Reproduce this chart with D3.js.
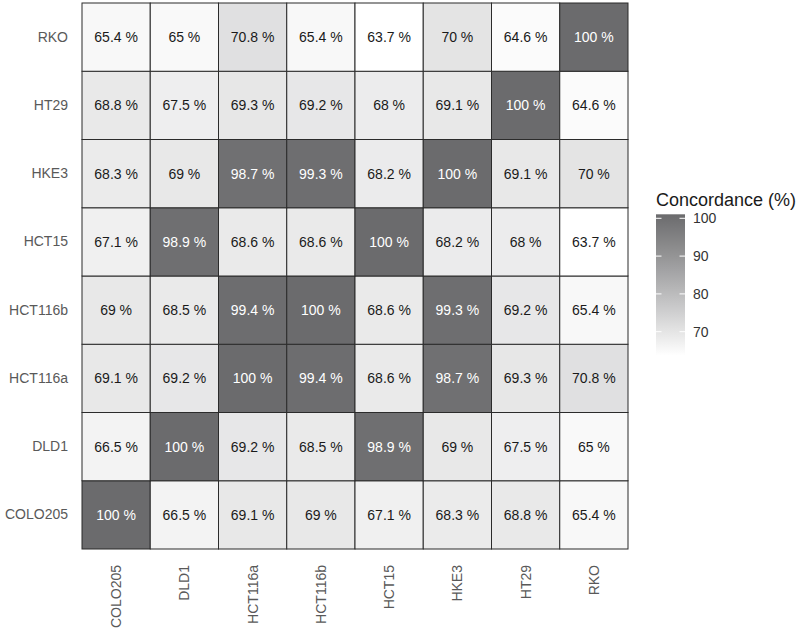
<!DOCTYPE html>
<html>
<head>
<meta charset="utf-8">
<script src="https://cdn.jsdelivr.net/npm/d3@7"></script>
<style>
  body { margin: 0; background: #fff; }
  text { font-family: "Liberation Sans", Arial, sans-serif; }
</style>
</head>
<body>
<div id="chart"></div>
<script>
const samples = ['COLO205', 'DLD1', 'HCT116a', 'HCT116b', 'HCT15', 'HKE3', 'HT29', 'RKO'];

// concordance, row = sample on y axis, column = sample on x axis
const concordance = [
  [100, 66.5, 69.1, 69, 67.1, 68.3, 68.8, 65.4],
  [66.5, 100, 69.2, 68.5, 98.9, 69, 67.5, 65],
  [69.1, 69.2, 100, 99.4, 68.6, 98.7, 69.3, 70.8],
  [69, 68.5, 99.4, 100, 68.6, 99.3, 69.2, 65.4],
  [67.1, 98.9, 68.6, 68.6, 100, 68.2, 68, 63.7],
  [68.3, 69, 98.7, 99.3, 68.2, 100, 69.1, 70],
  [68.8, 67.5, 69.3, 69.2, 68, 69.1, 100, 64.6],
  [65.4, 65, 70.8, 65.4, 63.7, 70, 64.6, 100],
];

const legendTicks = [70, 80, 90, 100];

const width = 800;
const height = 632;
const margin = { left: 82, top: 3 };
const gridSize = 546;

const svg = d3.select('#chart')
  .append('svg')
  .attr('width', width)
  .attr('height', height);

const cells = [];
concordance.forEach((row, i) => {
  row.forEach((v, j) => cells.push({ y: samples[i], x: samples[j], value: v }));
});

const vMin = d3.min(cells, (d) => d.value);
const vMax = d3.max(cells, (d) => d.value);

const color = d3.scaleLinear()
  .domain([vMin, vMax])
  .range(['#ffffff', '#6b6b6d'])
  .interpolate(d3.interpolateLab);

const xScale = d3.scaleBand()
  .domain(samples)
  .range([margin.left, margin.left + gridSize]);

const yScale = d3.scaleBand()
  .domain(samples)
  .range([margin.top + gridSize, margin.top]);

svg.append('g')
  .selectAll('rect')
  .data(cells)
  .enter()
  .append('rect')
  .attr('x', (d) => xScale(d.x))
  .attr('y', (d) => yScale(d.y))
  .attr('width', xScale.bandwidth())
  .attr('height', yScale.bandwidth())
  .attr('fill', (d) => color(d.value))
  .attr('stroke', '#2b2b2b')
  .attr('stroke-width', 1);

svg.append('g')
  .selectAll('text')
  .data(cells)
  .enter()
  .append('text')
  .attr('x', (d) => xScale(d.x) + xScale.bandwidth() / 2)
  .attr('y', (d) => yScale(d.y) + yScale.bandwidth() / 2)
  .attr('dy', '0.35em')
  .attr('text-anchor', 'middle')
  .attr('font-size', 14)
  .attr('fill', (d) => (d.value > 90 ? '#ffffff' : '#1a1a1a'))
  .text((d) => `${d.value} %`);

// y axis labels
const yAxis = (g) => {
  g.attr('transform', `translate(${margin.left}, 0)`)
    .call(d3.axisLeft(yScale).tickSize(0).tickPadding(14));
  g.select('.domain').remove();
  g.selectAll('text')
    .attr('font-size', 14)
    .attr('font-family', '"Liberation Sans", Arial, sans-serif')
    .attr('fill', '#595959');
};
svg.append('g').call(yAxis);

// x axis labels, rotated
const xAxis = (g) => {
  g.attr('transform', `translate(0, ${margin.top + gridSize})`)
    .call(d3.axisBottom(xScale).tickSize(0));
  g.select('.domain').remove();
  g.selectAll('text')
    .attr('font-size', 14)
    .attr('font-family', '"Liberation Sans", Arial, sans-serif')
    .attr('fill', '#595959')
    .attr('text-anchor', 'end')
    .attr('transform', 'rotate(-90)')
    .attr('x', -16)
    .attr('y', 0)
    .attr('dy', '0.35em');
};
svg.append('g').call(xAxis);

// colour bar legend
const legendX = 656;
const barWidth = 29;
const legendScale = d3.scaleLinear()
  .domain([70, 100])
  .range([331.7, 218.3]);
const barTop = legendScale(vMax) - 4;
const barBottom = legendScale(vMin);

const defs = svg.append('defs');
const grad = defs.append('linearGradient')
  .attr('id', 'legend-grad')
  .attr('x1', '0').attr('y1', '1')
  .attr('x2', '0').attr('y2', '0');
d3.range(0, 1.0001, 0.1).forEach((t) => {
  grad.append('stop')
    .attr('offset', t)
    .attr('stop-color', color(vMin + t * (vMax - vMin)));
});

svg.append('rect')
  .attr('x', legendX)
  .attr('y', barTop)
  .attr('width', barWidth)
  .attr('height', barBottom - barTop)
  .attr('fill', 'url(#legend-grad)');

const tickG = svg.append('g');
legendTicks.forEach((t) => {
  const y = legendScale(t);
  tickG.append('line')
    .attr('x1', legendX).attr('x2', legendX + 5.5)
    .attr('y1', y).attr('y2', y)
    .attr('stroke', '#ffffff').attr('stroke-width', 1);
  tickG.append('line')
    .attr('x1', legendX + barWidth - 5.5).attr('x2', legendX + barWidth)
    .attr('y1', y).attr('y2', y)
    .attr('stroke', '#ffffff').attr('stroke-width', 1);
  tickG.append('text')
    .attr('x', legendX + barWidth + 8)
    .attr('y', y)
    .attr('dy', '0.35em')
    .attr('font-size', 14)
    .attr('fill', '#333333')
    .text(t);
});

svg.append('text')
  .attr('x', legendX)
  .attr('y', 206)
  .attr('font-size', 18)
  .attr('fill', '#1a1a1a')
  .text('Concordance (%)');
</script>
</body>
</html>
